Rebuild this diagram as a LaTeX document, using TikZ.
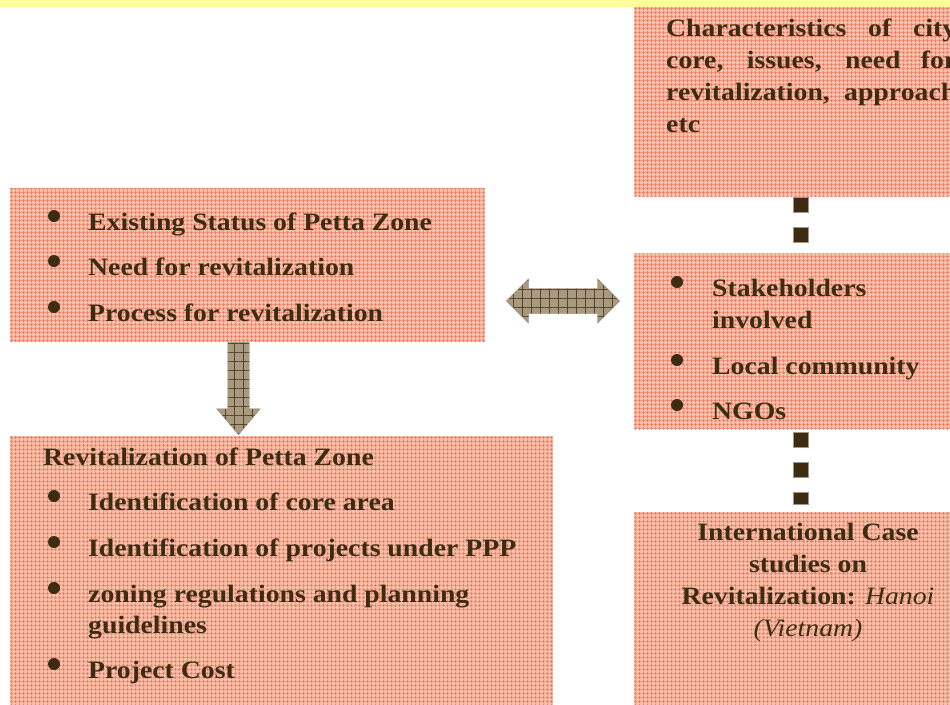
\documentclass[tikz,border=0pt]{standalone}
\usepackage{fontspec}
\setmainfont{Liberation Serif}[FakeStretch=1.11]
\usetikzlibrary{patterns.meta,shapes.arrows}
\definecolor{band}{HTML}{FFFF99}
\definecolor{salmon}{HTML}{F5BDAA}
\definecolor{salmonline}{HTML}{E5704E}
\definecolor{ink}{HTML}{3D2C12}
\definecolor{arrowfill}{HTML}{A89A80}
\definecolor{arrowline}{HTML}{5A4528}
\begin{document}
\begin{tikzpicture}[x=1pt,y=-1pt,
  box/.style={draw=none, inner sep=0pt, anchor=north west,
    preaction={fill=salmon},
    pattern={Hatch[angle=0,distance=4pt,line width=0.5pt]}, pattern color=salmonline},
  txt/.style={font=\fontsize{25}{32}\selectfont\bfseries, text=ink, inner sep=0pt, anchor=base west},
  bul/.style={circle, fill=ink, minimum size=12pt, inner sep=0pt},
  sq/.style={rectangle, fill=ink, draw=ink!50, line width=0.5pt, minimum size=15pt, inner sep=0pt},
  blockarrow/.style={inner sep=0pt, draw=arrowfill!85!black, line width=0.4pt, preaction={fill=arrowfill},
    pattern={Hatch[angle=0,distance=9pt,line width=1pt]}, pattern color=arrowline}
]
\useasboundingbox (0,0) rectangle (950,704);
\clip (0,0) rectangle (950,704);
\fill[white] (0,0) rectangle (950,704);
\fill[band] (0,0) rectangle (950,7);

% boxes
\node[box, minimum width=330pt, minimum height=189pt] (tr) at (634,7) {};
\node[box, minimum width=475pt, minimum height=154pt] (l1) at (10,188) {};
\node[box, minimum width=330pt, minimum height=176pt] (mr) at (634,253) {};
\node[box, minimum width=543pt, minimum height=275pt] (bl) at (10,436) {};
\node[box, minimum width=330pt, minimum height=200pt] (br) at (634,512) {};

% top right text
\node[txt, anchor=north west, text width=290pt, align=justify] (trt) at (666,19)
  {Characteristics of city\linebreak core, issues, need for\linebreak revitalization, approach\linebreak etc};

% left box 1
\node[bul] (b11) at (54,216) {};
\node[txt] (t11) at (88,230) {Existing Status of Petta Zone};
\node[bul] (b12) at (54,261) {};
\node[txt] (t12) at (88,275) {Need for revitalization};
\node[bul] (b13) at (54,307) {};
\node[txt] (t13) at (88,321) {Process for revitalization};

% middle right
\node[bul] (b21) at (677,282) {};
\node[txt] (t21) at (712,296) {Stakeholders};
\node[txt] (t21b) at (712,328) {involved};
\node[bul] (b22) at (677,360) {};
\node[txt] (t22) at (712,374) {Local community};
\node[bul] (b23) at (677,405) {};
\node[txt] (t23) at (712,419) {NGOs};

% bottom left
\node[txt] (t30) at (43,465) {Revitalization of Petta Zone};
\node[bul] (b31) at (54,496) {};
\node[txt] (t31) at (88,510) {Identification of core area};
\node[bul] (b32) at (54,542) {};
\node[txt] (t32) at (88,556) {Identification of projects under PPP};
\node[bul] (b33) at (54,588) {};
\node[txt] (t33) at (88,602) {zoning regulations and planning};
\node[txt] (t33b) at (88,633) {guidelines};
\node[bul] (b34) at (54,664) {};
\node[txt] (t34) at (88,678) {Project Cost};

% bottom right
\node[txt, anchor=base] (t41) at (808,540) {International Case};
\node[txt, anchor=base] (t42) at (808,572) {studies on};
\node[txt, anchor=base] (t43) at (808,604) {Revitalization: \textit{\mdseries Hanoi}};
\node[txt, anchor=base] (t44) at (808,636) {\textit{\mdseries (Vietnam)}};

% square dots
\node[sq] (s1) at (800.5,204.5) {};
\node[sq] (s2) at (800.5,234.5) {};
\node[sq] (s3) at (800.5,439.5) {};
\node[sq] (s4) at (800.5,469.5) {};
\node[sq, minimum height=12pt] (s5) at (800.5,498) {};

% block arrows
\node[blockarrow, double arrow, minimum height=113pt,
      double arrow head extend=9.5pt] (da) at (563,301) {\rule{0pt}{24pt}};
\node[blockarrow, single arrow, rotate=-90, minimum height=92pt,
      single arrow head extend=11pt, single arrow tip angle=80, anchor=tip] (sa) at (238.5,435) {\rule{0pt}{21pt}};
\end{tikzpicture}
\end{document}
